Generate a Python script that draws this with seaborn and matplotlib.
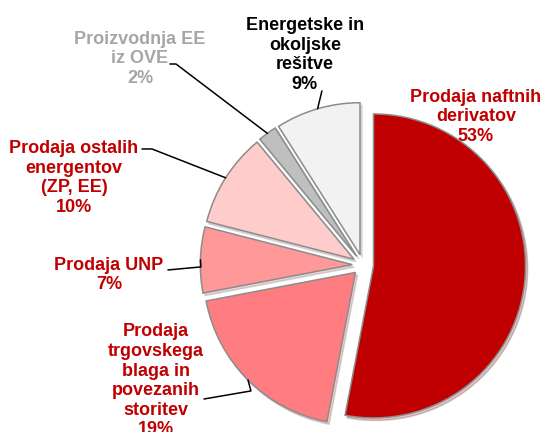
import numpy as np
import matplotlib
matplotlib.use("Agg")
import matplotlib.pyplot as plt
import seaborn as sns

# Data (clockwise from 12 o'clock)
labels = [
    "Prodaja naftnih\nderivatov",
    "Prodaja\ntrgovskega\nblaga in\npovezanih\nstoritev",
    "Prodaja UNP",
    "Prodaja ostalih\nenergentov\n(ZP, EE)",
    "Proizvodnja EE\niz OVE",
    "Energetske in\nokoljske\nrešitve",
]
shares = [53, 19, 7, 10, 2, 9]
slice_colors = ["#C00000", "#FF7C80", "#FF9999", "#FFCCCC", "#BFBFBF", "#F2F2F2"]
text_colors = ["#C00000", "#C00000", "#C00000", "#C00000", "#A6A6A6", "#000000"]

sns.set_theme(style="white")
plt.rcParams['font.family'] = ['Liberation Sans', 'DejaVu Sans']

fig = plt.figure(figsize=(5.42, 4.32), dpi=100)
ax = fig.add_axes([0, 0, 1, 1])

wedges, _ = ax.pie(
    shares,
    colors=slice_colors,
    startangle=90,
    counterclock=False,
    explode=[0.07] * len(shares),
    wedgeprops=dict(edgecolor="#8C8C8C", linewidth=1.1),
    shadow=dict(ox=0.01, oy=-0.012, shade=0.5, alpha=0.22),
)

# label layout: text centre, and start of the leader line (None = no line)
text_pos = [(0.743, 0.974), (-1.362, -0.763), (-1.671, -0.066),
            (-1.901, 0.572), (-1.467, 1.355), (-0.382, 1.382)]
line_start = [None,
              [(-1.046, -0.882), (-0.737, -0.829)],
              [(-1.283, -0.033), (-1.066, -0.013)],
              [(-1.454, 0.763), (-1.388, 0.763)],
              [(-1.270, 1.322), (-1.230, 1.322)],
              [(-0.270, 1.145)]]

for w, lab, pct, tc, tp, ls in zip(wedges, labels, shares, text_colors, text_pos, line_start):
    ax.text(tp[0], tp[1], f"{lab}\n{pct}%", ha="center", va="center",
            color=tc, fontsize=13, fontweight="bold", linespacing=1.2)
    if ls is None:
        continue
    mid = np.deg2rad((w.theta1 + w.theta2) / 2)
    cx, cy = w.center
    end = (cx + w.r * np.cos(mid), cy + w.r * np.sin(mid))
    pts = ls + [end]
    ax.plot([p[0] for p in pts], [p[1] for p in pts], color="black", lw=1.1)

ax.set_aspect("equal")
ax.set_xlim(-2.388, 1.178)
ax.set_ylim(-1.099, 1.743)
ax.axis("off")

plt.savefig("out.png", dpi=100, facecolor="white")
plt.close()
